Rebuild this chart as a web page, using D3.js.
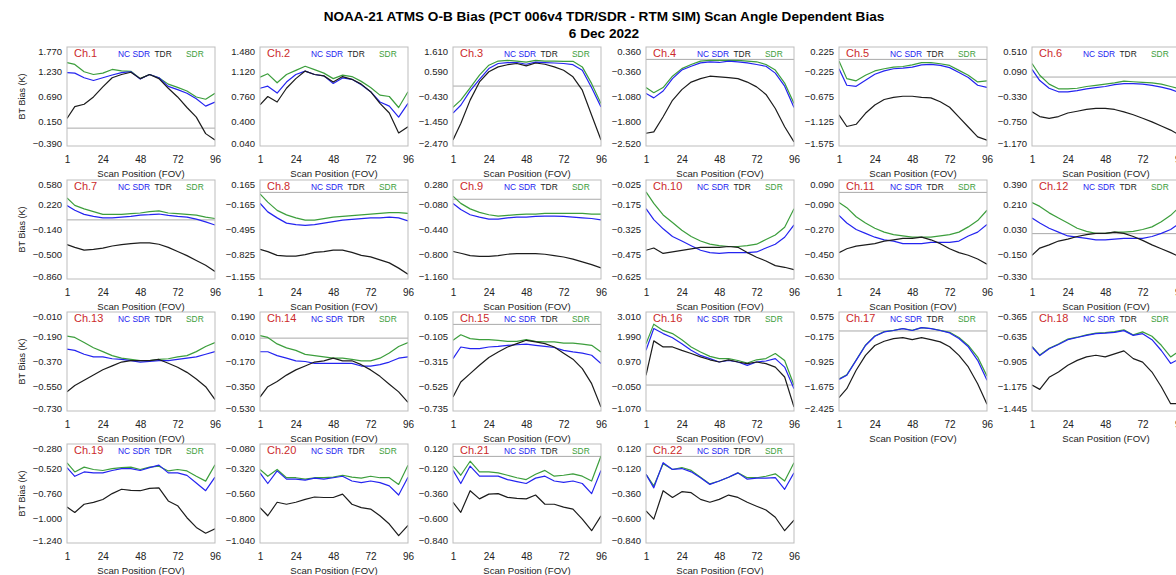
<!DOCTYPE html>
<html>
<head>
<meta charset="utf-8">
<script src="https://cdn.jsdelivr.net/npm/d3@7"></script>
<style>
body { margin: 0; background: #fff; }
text { font-family: "Liberation Sans", Arial, sans-serif; }
</style>
</head>
<body>
<svg width="1176" height="575"></svg>
<script>
var fov = [1, 6, 12, 18, 24, 30, 36, 42, 48, 54, 60, 66, 72, 78, 84, 90, 96];
var xTicks = [1, 24, 48, 72, 96];

var channels = ["Ch.1", "Ch.2", "Ch.3", "Ch.4", "Ch.5", "Ch.6", "Ch.7", "Ch.8", "Ch.9", "Ch.10", "Ch.11",
    "Ch.12", "Ch.13", "Ch.14", "Ch.15", "Ch.16", "Ch.17", "Ch.18", "Ch.19", "Ch.20", "Ch.21", "Ch.22"];

// y tick labels, top to bottom
var yTicks = [
    [1.770, 1.230, 0.690, 0.150, -0.390],
    [1.480, 1.120, 0.760, 0.400, 0.040],
    [1.610, 0.590, -0.430, -1.450, -2.470],
    [0.360, -0.360, -1.080, -1.800, -2.520],
    [0.225, -0.225, -0.675, -1.125, -1.575],
    [0.510, 0.090, -0.330, -0.750, -1.170],
    [0.580, 0.220, -0.140, -0.500, -0.860],
    [0.165, -0.165, -0.495, -0.825, -1.155],
    [0.280, -0.080, -0.440, -0.800, -1.160],
    [-0.025, -0.175, -0.325, -0.475, -0.625],
    [0.090, -0.090, -0.270, -0.450, -0.630],
    [0.390, 0.210, 0.030, -0.150, -0.330],
    [-0.010, -0.190, -0.370, -0.550, -0.730],
    [0.190, 0.010, -0.170, -0.350, -0.530],
    [0.105, -0.105, -0.315, -0.525, -0.735],
    [3.010, 1.990, 0.970, -0.050, -1.070],
    [0.575, -0.175, -0.925, -1.675, -2.425],
    [-0.365, -0.635, -0.905, -1.175, -1.445],
    [-0.280, -0.520, -0.760, -1.000, -1.240],
    [-0.080, -0.320, -0.560, -0.800, -1.040],
    [0.120, -0.120, -0.360, -0.600, -0.840],
    [0.120, -0.120, -0.360, -0.600, -0.840]
];

var ncSdr = [
    [1.21, 1.20, 1.10, 1.04, 1.10, 1.16, 1.21, 1.23, 1.07, 1.17, 1.10, 0.91, 0.84, 0.76, 0.64, 0.48, 0.57],
    [0.88, 0.91, 0.81, 0.97, 1.08, 1.13, 1.08, 1.06, 0.95, 1.03, 1.01, 0.93, 0.83, 0.68, 0.62, 0.46, 0.66],
    [-1.11, -0.79, -0.20, 0.28, 0.72, 0.93, 0.97, 0.97, 0.90, 0.99, 0.97, 0.95, 0.93, 0.88, 0.65, -0.07, -0.86],
    [-0.99, -1.12, -0.92, -0.56, -0.31, -0.20, -0.10, -0.07, -0.09, -0.05, -0.07, -0.10, -0.15, -0.20, -0.40, -0.78, -1.40],
    [-0.17, -0.47, -0.49, -0.38, -0.27, -0.21, -0.17, -0.16, -0.14, -0.10, -0.09, -0.11, -0.15, -0.24, -0.33, -0.47, -0.51],
    [0.13, -0.06, -0.19, -0.25, -0.25, -0.23, -0.20, -0.18, -0.16, -0.13, -0.11, -0.11, -0.12, -0.14, -0.17, -0.21, -0.27],
    [0.21, 0.14, 0.08, 0.05, 0.03, 0.03, 0.04, 0.05, 0.07, 0.075, 0.085, 0.065, 0.05, 0.04, 0.01, -0.03, -0.075],
    [-0.145, -0.26, -0.34, -0.41, -0.43, -0.44, -0.43, -0.41, -0.39, -0.37, -0.36, -0.35, -0.34, -0.34, -0.33, -0.34, -0.38],
    [-0.06, -0.15, -0.225, -0.26, -0.29, -0.29, -0.27, -0.26, -0.26, -0.25, -0.245, -0.245, -0.25, -0.26, -0.27, -0.28, -0.30],
    [-0.199, -0.265, -0.321, -0.367, -0.395, -0.423, -0.451, -0.465, -0.47, -0.465, -0.465, -0.465, -0.461, -0.437, -0.414, -0.372, -0.297],
    [-0.167, -0.223, -0.27, -0.298, -0.326, -0.345, -0.354, -0.373, -0.373, -0.373, -0.363, -0.363, -0.363, -0.354, -0.317, -0.289, -0.233],
    [0.114, 0.077, 0.039, 0.011, -0.017, -0.026, -0.035, -0.045, -0.045, -0.040, -0.035, -0.035, -0.035, -0.021, 0.002, 0.030, 0.077],
    [-0.28, -0.289, -0.317, -0.336, -0.336, -0.35, -0.355, -0.364, -0.374, -0.369, -0.364, -0.364, -0.355, -0.346, -0.336, -0.317, -0.298],
    [-0.099, -0.099, -0.127, -0.146, -0.165, -0.170, -0.184, -0.184, -0.184, -0.184, -0.184, -0.203, -0.203, -0.193, -0.174, -0.146, -0.137],
    [-0.291, -0.192, -0.206, -0.206, -0.192, -0.187, -0.178, -0.173, -0.168, -0.178, -0.187, -0.196, -0.22, -0.234, -0.244, -0.262, -0.333],
    [1.43, 2.33, 2.12, 1.95, 1.70, 1.43, 1.22, 1.09, 0.95, 1.01, 0.95, 0.81, 0.95, 0.99, 1.09, 0.74, -0.15],
    [-1.47, -1.34, -0.89, -0.44, -0.16, -0.03, 0.015, 0.07, 0.015, 0.10, 0.07, 0.015, -0.06, -0.23, -0.48, -0.89, -1.49],
    [-0.747, -0.841, -0.766, -0.719, -0.667, -0.643, -0.62, -0.601, -0.596, -0.587, -0.568, -0.62, -0.601, -0.667, -0.785, -0.926, -0.874],
    [-0.509, -0.593, -0.551, -0.56, -0.56, -0.537, -0.518, -0.518, -0.537, -0.509, -0.485, -0.56, -0.56, -0.584, -0.658, -0.733, -0.602],
    [-0.36, -0.463, -0.341, -0.421, -0.421, -0.43, -0.411, -0.421, -0.407, -0.393, -0.439, -0.454, -0.439, -0.454, -0.486, -0.575, -0.402],
    [-0.136, -0.263, -0.094, -0.192, -0.192, -0.192, -0.225, -0.244, -0.263, -0.211, -0.192, -0.239, -0.253, -0.239, -0.263, -0.361, -0.136],
    [-0.174, -0.305, -0.061, -0.127, -0.118, -0.15, -0.207, -0.272, -0.239, -0.202, -0.16, -0.221, -0.211, -0.211, -0.207, -0.319, -0.16]
];

var tdr = [
    [0.21, 0.47, 0.52, 0.68, 0.90, 1.10, 1.17, 1.22, 1.08, 1.17, 1.08, 0.87, 0.68, 0.45, 0.24, -0.12, -0.26],
    [0.64, 0.76, 0.68, 0.88, 1.02, 1.13, 1.08, 1.06, 0.97, 1.05, 1.01, 0.94, 0.83, 0.66, 0.52, 0.23, 0.32],
    [-2.22, -1.54, -0.58, 0.17, 0.59, 0.79, 0.88, 0.93, 0.83, 0.95, 0.90, 0.79, 0.65, 0.38, -0.17, -1.20, -2.22],
    [-2.15, -2.11, -1.67, -1.19, -0.88, -0.66, -0.56, -0.49, -0.51, -0.53, -0.56, -0.66, -0.80, -1.02, -1.43, -1.96, -2.40],
    [-1.01, -1.22, -1.18, -0.98, -0.83, -0.73, -0.69, -0.67, -0.67, -0.69, -0.70, -0.77, -0.87, -1.05, -1.23, -1.41, -1.47],
    [-0.59, -0.67, -0.70, -0.67, -0.61, -0.58, -0.55, -0.53, -0.53, -0.55, -0.59, -0.64, -0.70, -0.76, -0.83, -0.90, -0.99],
    [-0.36, -0.40, -0.44, -0.43, -0.41, -0.38, -0.36, -0.345, -0.335, -0.335, -0.355, -0.40, -0.46, -0.52, -0.59, -0.66, -0.75],
    [-0.76, -0.79, -0.84, -0.85, -0.85, -0.83, -0.80, -0.79, -0.77, -0.77, -0.80, -0.84, -0.86, -0.90, -0.94, -1.01, -1.09],
    [-0.76, -0.785, -0.82, -0.83, -0.83, -0.82, -0.80, -0.79, -0.79, -0.79, -0.80, -0.82, -0.84, -0.87, -0.91, -0.95, -1.00],
    [-0.451, -0.437, -0.47, -0.461, -0.451, -0.442, -0.433, -0.433, -0.433, -0.428, -0.433, -0.465, -0.493, -0.516, -0.544, -0.554, -0.568],
    [-0.438, -0.41, -0.391, -0.382, -0.373, -0.354, -0.345, -0.335, -0.335, -0.326, -0.345, -0.373, -0.41, -0.438, -0.457, -0.485, -0.522],
    [-0.157, -0.105, -0.082, -0.054, -0.040, -0.021, -0.007, 0.002, 0.002, 0.011, 0.002, -0.021, -0.049, -0.082, -0.110, -0.138, -0.171],
    [-0.591, -0.544, -0.506, -0.468, -0.43, -0.402, -0.374, -0.364, -0.364, -0.364, -0.355, -0.383, -0.412, -0.449, -0.497, -0.553, -0.647],
    [-0.429, -0.353, -0.316, -0.269, -0.231, -0.203, -0.174, -0.165, -0.146, -0.165, -0.165, -0.193, -0.231, -0.278, -0.335, -0.391, -0.467],
    [-0.616, -0.489, -0.418, -0.347, -0.281, -0.234, -0.192, -0.163, -0.135, -0.149, -0.163, -0.192, -0.244, -0.295, -0.376, -0.503, -0.701],
    [0.40, 1.82, 1.57, 1.57, 1.43, 1.30, 1.16, 1.04, 0.95, 1.04, 0.95, 0.88, 0.95, 0.88, 0.74, 0.33, -0.91],
    [-2.02, -1.75, -1.19, -0.74, -0.44, -0.31, -0.23, -0.20, -0.26, -0.20, -0.26, -0.33, -0.48, -0.74, -1.09, -1.60, -2.22],
    [-1.162, -1.209, -1.077, -1.02, -0.945, -0.893, -0.855, -0.837, -0.855, -0.822, -0.789, -0.874, -0.912, -1.02, -1.181, -1.365, -1.365],
    [-0.892, -0.944, -0.864, -0.846, -0.818, -0.761, -0.719, -0.729, -0.733, -0.71, -0.705, -0.832, -0.878, -0.995, -1.089, -1.145, -1.103],
    [-0.697, -0.776, -0.645, -0.664, -0.645, -0.617, -0.594, -0.599, -0.599, -0.566, -0.664, -0.697, -0.711, -0.776, -0.856, -0.968, -0.87],
    [-0.445, -0.543, -0.333, -0.412, -0.366, -0.361, -0.398, -0.408, -0.412, -0.375, -0.464, -0.464, -0.492, -0.511, -0.609, -0.721, -0.576],
    [-0.529, -0.609, -0.333, -0.398, -0.342, -0.352, -0.417, -0.445, -0.417, -0.375, -0.398, -0.445, -0.483, -0.52, -0.59, -0.721, -0.618]
];

var sdr = [
    [1.43, 1.39, 1.23, 1.17, 1.20, 1.28, 1.25, 1.24, 1.08, 1.17, 1.10, 0.96, 0.89, 0.81, 0.68, 0.63, 0.76],
    [1.04, 1.09, 0.96, 1.08, 1.14, 1.20, 1.15, 1.10, 1.02, 1.07, 1.05, 0.98, 0.89, 0.78, 0.76, 0.60, 0.83],
    [-0.88, -0.58, -0.07, 0.45, 0.86, 1.03, 1.06, 1.03, 0.99, 1.06, 1.03, 1.03, 1.02, 1.02, 0.79, 0.10, -0.72],
    [-0.82, -0.97, -0.82, -0.49, -0.27, -0.15, -0.05, -0.03, -0.03, -0.03, -0.03, -0.05, -0.07, -0.15, -0.31, -0.69, -1.28],
    [-0.03, -0.35, -0.39, -0.29, -0.21, -0.17, -0.14, -0.13, -0.10, -0.06, -0.06, -0.08, -0.11, -0.20, -0.29, -0.41, -0.39],
    [0.23, 0.03, -0.12, -0.20, -0.20, -0.19, -0.16, -0.14, -0.12, -0.10, -0.07, -0.08, -0.09, -0.10, -0.12, -0.16, -0.20],
    [0.32, 0.21, 0.16, 0.12, 0.08, 0.08, 0.08, 0.09, 0.10, 0.12, 0.13, 0.10, 0.09, 0.08, 0.07, 0.04, 0.02],
    [-0.02, -0.13, -0.24, -0.30, -0.34, -0.37, -0.37, -0.35, -0.33, -0.32, -0.31, -0.30, -0.29, -0.28, -0.27, -0.27, -0.28],
    [0.045, -0.06, -0.14, -0.19, -0.225, -0.245, -0.235, -0.225, -0.215, -0.215, -0.205, -0.205, -0.205, -0.205, -0.205, -0.215, -0.215],
    [-0.097, -0.167, -0.237, -0.283, -0.33, -0.367, -0.395, -0.414, -0.423, -0.428, -0.428, -0.423, -0.414, -0.386, -0.358, -0.311, -0.199],
    [-0.074, -0.111, -0.177, -0.223, -0.261, -0.289, -0.307, -0.317, -0.326, -0.326, -0.326, -0.317, -0.307, -0.289, -0.251, -0.205, -0.13],
    [0.226, 0.198, 0.151, 0.114, 0.077, 0.039, 0.016, 0.002, 0.002, 0.011, 0.011, 0.016, 0.030, 0.049, 0.086, 0.133, 0.198],
    [-0.185, -0.195, -0.232, -0.27, -0.298, -0.327, -0.346, -0.355, -0.364, -0.364, -0.355, -0.35, -0.336, -0.327, -0.298, -0.261, -0.232],
    [0.019, 0.005, -0.042, -0.071, -0.089, -0.118, -0.127, -0.137, -0.146, -0.146, -0.155, -0.165, -0.165, -0.146, -0.108, -0.061, -0.033],
    [-0.135, -0.088, -0.121, -0.13, -0.13, -0.135, -0.145, -0.145, -0.13, -0.145, -0.149, -0.149, -0.159, -0.159, -0.168, -0.178, -0.234],
    [1.70, 2.51, 2.25, 2.12, 1.87, 1.57, 1.36, 1.18, 1.09, 1.09, 1.01, 0.91, 1.04, 1.09, 1.30, 1.01, -0.01],
    [-1.45, -1.33, -0.88, -0.43, -0.15, -0.02, 0.02, 0.075, 0.02, 0.10, 0.075, 0.02, -0.04, -0.20, -0.44, -0.79, -1.37],
    [-0.74, -0.835, -0.76, -0.715, -0.66, -0.64, -0.615, -0.595, -0.59, -0.58, -0.56, -0.615, -0.582, -0.629, -0.728, -0.855, -0.785],
    [-0.462, -0.551, -0.504, -0.527, -0.537, -0.518, -0.509, -0.504, -0.527, -0.504, -0.495, -0.541, -0.527, -0.541, -0.593, -0.64, -0.481],
    [-0.327, -0.393, -0.327, -0.407, -0.407, -0.421, -0.407, -0.407, -0.402, -0.383, -0.402, -0.411, -0.393, -0.407, -0.407, -0.472, -0.285],
    [-0.094, -0.183, -0.047, -0.15, -0.15, -0.16, -0.183, -0.207, -0.225, -0.174, -0.136, -0.192, -0.183, -0.169, -0.192, -0.239, 0.004],
    [-0.174, -0.286, -0.071, -0.127, -0.108, -0.136, -0.202, -0.267, -0.239, -0.202, -0.16, -0.207, -0.207, -0.193, -0.169, -0.239, -0.061]
];

var svg = d3.select("svg"),
    colX = [67, 260, 453, 646, 839, 1032],
    rowY = [47, 180, 312, 444],
    pw = 148,
    ph = 99;

var green = "#3c9e3c", blue = "#2424f0", black = "#1c1c1c", red = "#cc2b2b";

svg.append("rect").attr("width", 1176).attr("height", 575).attr("fill", "#fff");

// title
svg.append("text")
    .attr("x", 604).attr("y", 21)
    .attr("text-anchor", "middle")
    .style("font-size", "13.6px").style("font-weight", "bold")
    .text("NOAA-21 ATMS O-B Bias (PCT 006v4 TDR/SDR - RTM SIM) Scan Angle Dependent Bias");
svg.append("text")
    .attr("x", 604).attr("y", 38)
    .attr("text-anchor", "middle")
    .style("font-size", "13.6px").style("font-weight", "bold")
    .text("6 Dec 2022");

var x = d3.scaleLinear().domain([1, 96]).range([0, pw]);

channels.forEach(function (name, i) {
    var col = i % 6, row = Math.floor(i / 6);
    var tk = yTicks[i];
    var g = svg.append("g").attr("transform", "translate(" + colX[col] + "," + rowY[row] + ")");

    var y = d3.scaleLinear().domain([tk[4], tk[0]]).range([ph, 0]);

    g.append("clipPath").attr("id", "clip" + i)
        .append("rect").attr("width", pw).attr("height", ph);

    g.append("rect")
        .attr("width", pw).attr("height", ph)
        .attr("fill", "#fff");

    if (tk[4] < 0 && tk[0] > 0) {
        g.append("line")
            .attr("x1", 0).attr("x2", pw)
            .attr("y1", y(0)).attr("y2", y(0))
            .attr("stroke", "#a9a9a9").attr("stroke-width", 1);
    }

    var line = d3.line()
        .x(function (d, j) { return x(fov[j]); })
        .y(function (d) { return y(d); });

    var plot = g.append("g").attr("clip-path", "url(#clip" + i + ")");
    [[sdr[i], green], [ncSdr[i], blue], [tdr[i], black]].forEach(function (s) {
        plot.append("path")
            .datum(s[0])
            .attr("d", line)
            .attr("fill", "none")
            .attr("stroke", s[1])
            .attr("stroke-width", 1.2)
            .attr("stroke-linejoin", "round");
    });

    g.append("rect")
        .attr("width", pw).attr("height", ph)
        .attr("fill", "none")
        .attr("stroke", "#bdbdbd").attr("stroke-width", 1);

    // y axis, end labels pushed inside the box like the original
    var ya = g.append("g")
        .call(d3.axisLeft(y).tickValues(tk).tickSize(0).tickPadding(5).tickFormat(d3.format(".3f")));
    ya.select(".domain").remove();
    ya.selectAll(".tick text")
        .style("font-size", "9.5px").attr("fill", "#222")
        .attr("y", function (d) { return d === tk[0] ? 4 : (d === tk[4] ? -3 : 0); });

    var xa = g.append("g")
        .attr("transform", "translate(0," + ph + ")")
        .call(d3.axisBottom(x).tickValues(xTicks).tickSize(0).tickPadding(10));
    xa.select(".domain").remove();
    xa.selectAll(".tick text").style("font-size", "10px").attr("fill", "#222");

    g.append("text")
        .attr("x", pw / 2).attr("y", ph + 31)
        .attr("text-anchor", "middle")
        .style("font-size", "9.6px").attr("fill", "#222")
        .text("Scan Position (FOV)");

    if (col === 0) {
        g.append("text")
            .attr("transform", "translate(-42," + (ph / 2) + ") rotate(-90)")
            .attr("text-anchor", "middle")
            .style("font-size", "9px").attr("fill", "#222")
            .text("BT Bias (K)");
    }

    // channel name and legend
    g.append("text").attr("x", 7).attr("y", 10)
        .style("font-size", "11px").attr("fill", red).text(name);
    g.append("text").attr("x", 51).attr("y", 10)
        .style("font-size", "8.4px").attr("fill", blue).text("NC SDR");
    g.append("text").attr("x", 87.5).attr("y", 10)
        .style("font-size", "8.4px").attr("fill", black).text("TDR");
    g.append("text").attr("x", 119).attr("y", 10)
        .style("font-size", "8.4px").attr("fill", green).text("SDR");
});
</script>
</body>
</html>
